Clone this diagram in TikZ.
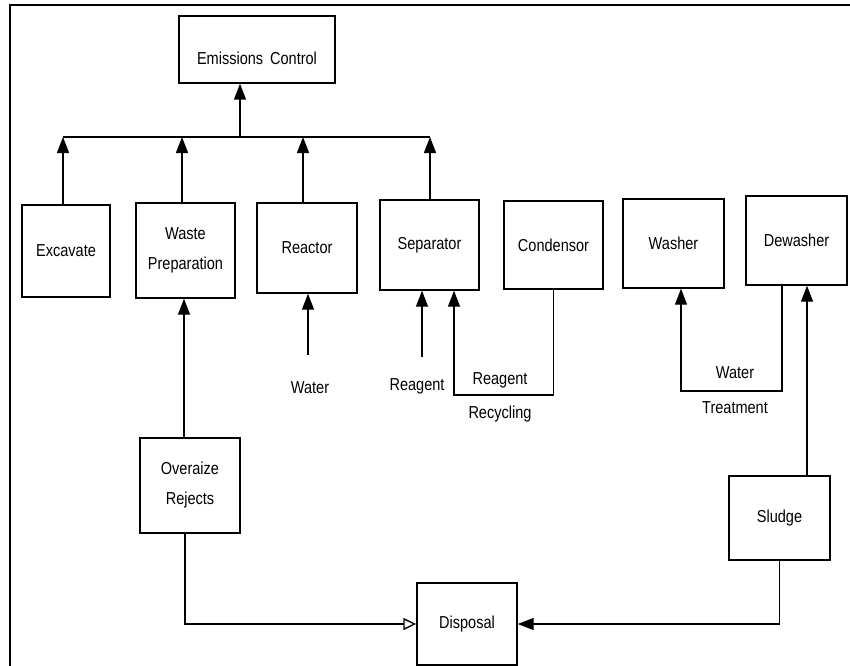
\documentclass[tikz,border=0pt]{standalone}
\usepackage{fontspec}
\setmainfont[FakeStretch=0.84]{Liberation Sans}
\usetikzlibrary{arrows.meta}
\begin{document}
\begin{tikzpicture}[x=1bp,y=-1bp,
  every node/.style={font=\fontsize{17.3bp}{30bp}\selectfont},
  box/.style={draw,line width=1.4bp,inner sep=0pt,align=center},
  conn/.style={line width=1.4bp},
  arr/.style={conn,-{Triangle[length=16bp,width=12bp]}},
  oarr/.style={conn,-{Triangle[open,length=13bp,width=12bp]}}]
\useasboundingbox (0,0) rectangle (850,666);
\draw[line width=1.6bp] (10,666) -- (10,5) -- (850,5);
% boxes
\node[box,minimum width=156bp,minimum height=67bp] (ec) at (257,49.5) {};
\node (ect) at (257,58) {Emissions\, Control};
\node[box,minimum width=88bp,minimum height=92bp] (exc) at (66,251) {Excavate};
\node[box,minimum width=99bp,minimum height=95bp] (wp) at (185.5,250.5) {Waste\\Preparation};
\node[box,minimum width=100bp,minimum height=90bp] (re) at (307,248) {Reactor};
\node[box,minimum width=99bp,minimum height=90bp] (sep) at (429.5,245) {Separator};
\node[box,minimum width=99bp,minimum height=88bp] (con) at (553.5,245) {Condensor};
\node[box,minimum width=101bp,minimum height=89bp] (wa) at (673.5,243.5) {Washer};
\node[box,minimum width=101bp,minimum height=89bp] (dw) at (796.5,240.5) {Dewasher};
\node[box,minimum width=100bp,minimum height=95bp] (ov) at (190,485.5) {Overaize\\Rejects};
\node[box,minimum width=101bp,minimum height=84bp] (sl) at (779.5,518) {Sludge};
\node[box,minimum width=100bp,minimum height=82bp] (dis) at (467,624) {Disposal};
% labels
\node (water) at (310,388) {Water};
\node (reag) at (417,386) {Reagent};
\node (rr1) at (500,380) {Reagent};
\node (rr2) at (500,414) {Recycling};
\node (wt1) at (735,373) {Water};
\node (wt2) at (735,408) {Treatment};
% bus to emissions control
\coordinate (busc) at (240,137);
\coordinate (e1) at ([xshift=-3bp]exc.north);
\coordinate (e2) at ([xshift=-3.5bp]wp.north);
\coordinate (e3) at ([xshift=-4bp]re.north);
\coordinate (e4) at ([xshift=0.5bp]sep.north);
\draw[conn] (e1 |- busc) -- (e4 |- busc);
\draw[arr] (busc) -- (busc |- ec.south);
\foreach \c in {e1,e2,e3,e4} \draw[arr] (\c) -- (\c |- busc);
% water to reactor
\coordinate (wtop) at (308,355);
\draw[arr] (wtop) -- (wtop |- re.south);
% reagent to separator
\coordinate (rtop) at (422,357);
\draw[arr] (rtop) -- (rtop |- sep.south);
% reagent recycling
\coordinate (rc) at (454,395);
\draw[arr] (con.south) |- (rc) -- (rc |- sep.south);
% water treatment
\coordinate (wtr) at (782,391);
\coordinate (wtl) at (681,391);
\draw[arr] (wtr |- dw.south) -- (wtr) -- (wtl) -- (wtl |- wa.south);
% sludge to dewasher
\coordinate (slu) at ([xshift=27.5bp]sl.north);
\draw[arr] (slu) -- (slu |- dw.south);
% oversize to waste preparation
\coordinate (ovt) at ([xshift=-6bp]ov.north);
\draw[arr] (ovt) -- (ovt |- wp.south);
% to disposal
\coordinate (ovb) at ([xshift=-5bp]ov.south);
\draw[oarr] (ovb) |- (dis.west);
\draw[arr] (sl.south) |- (dis.east);
\end{tikzpicture}
\end{document}
